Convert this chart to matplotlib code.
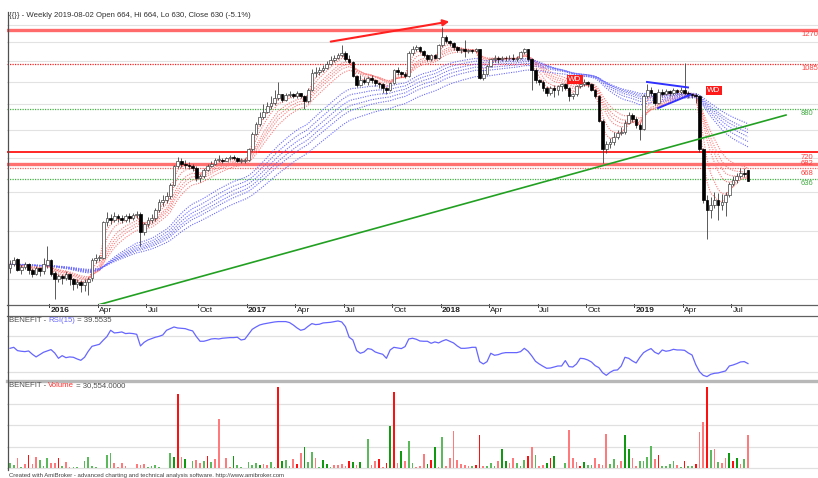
import numpy as np
import pandas as pd
import matplotlib
matplotlib.use('Agg')
import matplotlib.pyplot as plt
from matplotlib.lines import Line2D
from matplotlib.ticker import NullLocator

# ---------------- data (weekly bars from 2015-10-16) ----------------
start_date = '2015-10-16'
closes = [428,436,416,422,428,416,410,420,414,428,
          436,410,399,406,402,410,399,391,395,388,
          395,399,436,441,441,520,530,525,535,530,
          525,535,530,537,540,497,515,525,530,550,
          571,577,587,619,677,690,683,680,677,670,
          639,645,664,677,683,696,696,693,700,703,
          700,693,693,696,730,784,822,850,870,891,
          904,925,943,916,938,943,934,947,934,912,
          961,1041,1046,1056,1066,1087,1103,1118,1129,1140,
          1108,1097,1026,984,1007,998,1017,1007,993,988,
          970,961,993,1056,1046,1036,1026,1140,1161,1172,
          1150,1129,1108,1129,1118,1183,1229,1206,1194,1172,
          1156,1161,1150,1156,1150,1161,1017,1036,1077,1108,
          1118,1108,1118,1113,1118,1108,1118,1145,1161,1108,
          1056,1007,998,970,947,970,961,979,988,970,
          934,943,979,988,998,988,961,934,834,730,
          748,755,773,788,792,826,858,842,818,803,
          934,961,947,904,952,943,956,947,961,952,
          961,947,943,940,934,730,577,550,563,577,
          563,571,590,621,634,645,654,651,630]
opens = [420,428,438,416,422,428,416,410,420,414,
         426,436,412,399,406,402,410,399,391,395,
         388,395,402,436,441,441,520,530,525,535,
         530,525,535,530,537,540,497,515,525,530,
         550,571,577,587,619,677,690,683,680,677,
         670,639,645,664,677,683,696,696,693,700,
         703,700,693,693,696,730,784,822,850,870,
         891,904,925,943,916,938,943,934,947,934,
         912,961,1041,1046,1056,1066,1087,1103,1118,1129,
         1140,1108,1097,1026,984,1007,998,1017,1007,993,
         988,970,961,993,1056,1046,1036,1026,1140,1161,
         1172,1150,1129,1108,1129,1118,1183,1229,1206,1194,
         1172,1156,1161,1150,1156,1150,1161,1017,1036,1077,
         1108,1118,1108,1118,1113,1118,1108,1118,1145,1161,
         1108,1056,1007,998,970,947,970,961,979,988,
         970,934,943,979,988,998,988,961,934,834,
         730,748,755,773,788,792,826,858,842,818,
         803,934,961,947,904,952,943,956,947,961,
         952,961,947,943,940,934,730,577,550,563,
         577,563,571,590,621,634,645,654,664]
highs = [436,442,440,428,432,430,420,424,422,440,
         466,438,414,410,410,414,412,402,400,398,
         400,404,440,448,446,524,545,540,545,540,
         538,540,542,542,548,545,520,532,540,556,
         580,590,598,625,680,705,700,694,688,682,
         676,652,668,682,690,700,712,702,706,710,
         710,704,700,702,735,790,830,870,900,910,
         935,960,1000,945,948,958,950,955,950,940,
         970,1060,1070,1070,1078,1100,1125,1130,1140,1185,
         1150,1130,1100,1030,1030,1020,1025,1030,1012,1000,
         995,975,1000,1062,1070,1052,1045,1150,1180,1185,
         1180,1160,1135,1135,1135,1190,1290,1240,1215,1200,
         1180,1170,1215,1162,1165,1170,1165,1060,1082,1115,
         1130,1125,1128,1125,1130,1135,1128,1152,1170,1165,
         1115,1065,1012,1005,980,978,985,985,995,995,
         975,950,985,1000,1010,1002,995,968,940,840,
         760,770,790,800,810,835,870,865,850,825,
         945,990,975,950,965,965,968,960,972,968,
         975,1090,955,950,948,940,735,590,585,600,
         595,592,600,628,645,655,668,670,664]
lows = [412,424,414,410,418,410,404,408,406,410,
        420,406,365,394,390,398,388,380,384,376,
        378,372,396,430,434,438,512,516,522,520,
        518,520,522,526,530,466,490,508,518,524,
        545,560,570,580,615,668,672,670,665,660,
        630,626,640,660,672,680,688,686,690,694,
        694,688,684,686,690,726,780,815,842,865,
        880,895,916,908,912,930,928,926,926,882,
        905,955,1020,1030,1046,1060,1080,1095,1108,1120,
        1100,1085,1020,975,980,990,985,992,978,970,
        947,945,955,988,1030,1020,1015,1020,1130,1150,
        1140,1120,1098,1100,1110,1112,1175,1195,1180,1160,
        1145,1140,1120,1142,1140,1145,1010,1005,1030,1070,
        1095,1090,1098,1100,1105,1098,1100,1110,1135,1100,
        961,995,985,955,935,940,930,940,958,960,
        912,920,935,970,980,975,955,925,828,686,
        716,735,745,765,780,785,820,830,805,762,
        798,925,935,895,900,935,938,935,940,942,
        945,940,925,928,905,720,570,482,530,555,
        525,550,535,585,615,625,640,642,630]
volume_k = [5.2,3.1,9.3,0.9,4.0,12.0,4.0,10.2,7.7,2.2,
            9.9,4.6,4.6,9.3,2.5,6.2,0.9,1.5,0.9,0.6,
            7.1,10.2,2.2,1.5,0.3,0.3,12.4,13.9,5.3,1.5,
            4.6,2.2,0.3,0.3,4.0,3.1,4.0,0.9,2.5,3.4,
            1.5,0.3,0.3,13.9,10.2,69.0,10.2,8.3,0.3,7.1,
            7.7,5.3,7.1,11.4,6.2,8.3,45.4,0.6,9.3,1.5,
            11.4,3.1,0.9,0.3,6.2,3.1,5.3,3.1,3.7,3.1,
            5.6,0.9,75.1,7.1,7.7,2.2,8.3,3.7,13.9,19.5,
            6.2,15.4,9.3,1.5,7.7,4.0,1.5,3.1,3.1,3.7,
            2.2,7.1,6.2,3.1,6.2,0.6,26.9,3.1,7.1,8.3,
            1.5,4.6,39.2,70.5,5.3,15.7,7.1,25.3,5.3,1.5,
            2.2,13.3,3.7,7.7,19.5,0.9,28.7,2.5,9.3,34.9,
            7.7,3.7,3.1,2.5,2.5,3.1,30.9,2.5,2.2,5.3,
            2.2,7.1,17.6,7.1,5.3,9.3,5.3,2.2,7.7,11.4,
            19.5,12.4,2.2,3.1,4.6,9.9,11.4,0.3,0.3,5.3,
            35.5,9.3,6.2,2.5,6.2,3.1,3.1,9.3,4.0,3.4,
            32.1,4.0,8.3,3.1,7.1,30.9,17.6,9.9,2.5,6.8,
            6.8,10.2,20.7,8.3,12.4,2.2,2.2,4.0,6.8,3.1,
            1.5,7.1,2.5,2.2,3.7,33.7,42.6,75.1,17.0,17.6,
            5.9,5.3,9.9,13.9,7.1,9.9,3.7,8.3,30.554]
volume_color = list("ggrgrRrrgg" "grrRgrrggg" "ggggggggrr" "rrrrrrrggg"
                    "ggggGRrGgg" "rrgRgrrrrr" "GggggggGrr" "ggRGggrRrG"
                    "ggrgGGgrrr" "rRGrGrgrrR" "rRGRrGrggr" "rrGRGrgrrr"
                    "rrrrgRRrgg" "grGGrrgggR" "rgrrGRGggg" "rrrRGggrrr"
                    "rggrrGGrrg" "gggrRggggr" "gRggRrrRgr" "grrGRGrgr")
rsi = [56.2,57.3,53.7,53.0,52.6,53.3,49.7,46.8,49.3,51.9,
       53.3,54.8,51.1,45.3,48.2,46.0,46.8,46.4,44.6,43.1,
       46.4,53.0,58.4,59.5,60.6,65.0,69.0,75.9,73.0,73.4,
       74.1,72.3,72.7,72.3,71.5,58.8,62.8,65.3,66.8,68.3,
       69.3,70.8,75.9,77.7,79.5,78.4,78.1,77.7,76.3,75.2,
       69.0,63.9,63.9,65.0,66.4,66.8,66.4,67.2,67.5,67.9,
       67.9,68.3,65.3,66.1,71.5,77.0,79.5,81.7,82.8,83.6,
       84.3,85.0,85.4,85.4,85.4,84.3,81.7,78.5,75.9,77.0,
       80.3,83.2,82.1,82.5,83.9,84.3,84.6,85.4,86.1,85.0,
       79.9,68.3,65.3,53.7,50.8,52.2,55.9,55.1,52.2,50.8,
       49.7,45.3,54.4,57.3,56.6,55.9,58.1,66.4,67.2,66.1,
       64.2,63.9,63.9,61.7,63.2,62.1,64.2,65.7,63.9,62.1,
       58.8,56.2,56.2,56.6,57.3,57.3,41.7,39.1,41.7,50.8,
       48.6,49.3,50.8,51.5,51.5,51.5,51.5,52.6,56.2,53.0,
       47.9,42.0,39.1,36.6,34.4,34.7,35.8,36.9,36.9,42.8,
       36.2,35.8,39.1,45.3,44.9,43.5,41.3,37.3,35.1,29.6,
       26.7,30.0,32.2,32.6,36.9,46.4,45.3,42.4,40.2,46.4,
       51.5,54.0,55.9,51.9,50.0,54.4,53.0,53.7,55.1,54.4,
       54.4,54.0,51.1,48.9,38.4,30.7,26.7,25.3,27.8,28.9,
       29.3,30.4,31.5,36.9,38.0,39.5,41.3,41.7,39.55]
short_periods = [3, 5, 8, 10, 12, 15]
long_periods = [30, 35, 40, 45, 50, 60]
levels = [1270, 1085, 880, 720, 682, 668, 636]
level_labels = ['1270', '1085', '880', '720', '682', '668', '636']
tick_months = ['2016-01', '2016-04', '2016-07', '2016-10', '2017-01', '2017-04',
               '2017-07', '2017-10', '2018-01', '2018-04', '2018-07', '2018-10',
               '2019-01', '2019-04', '2019-07']
tick_labels = ['2016', 'Apr', 'Jul', 'Oct', '2017', 'Apr', 'Jul', 'Oct',
               '2018', 'Apr', 'Jul', 'Oct', '2019', 'Apr', 'Jul']

# ---------------- figure ----------------
W, H = 818, 478
plt.rcParams['font.family'] = ['Liberation Sans', 'DejaVu Sans']
fig = plt.figure(figsize=(W / 100, H / 100), dpi=100)
fig.patch.set_facecolor('white')


def px_axes(x0, y0, x1, y1):
    a = fig.add_axes([x0 / W, 1 - y1 / H, (x1 - x0) / W, (y1 - y0) / H])
    a.set_facecolor('none')
    for s in a.spines.values():
        s.set_visible(False)
    a.xaxis.set_major_locator(NullLocator())
    a.xaxis.set_minor_locator(NullLocator())
    a.yaxis.set_major_locator(NullLocator())
    a.yaxis.set_minor_locator(NullLocator())
    return a


def xi(px):
    return (px - 10) / 3.727


XL = (xi(7), xi(818))
n = len(closes)
idx = np.arange(n)
o = np.array(opens, float); c = np.array(closes, float)
hi = np.array(highs, float); lo = np.array(lows, float)

# ---------------- main price panel ----------------
ax = px_axes(7, 12, 818, 304)
ax.set_yscale('log')
ax.yaxis.set_major_locator(NullLocator())
ax.yaxis.set_minor_locator(NullLocator())
ax.set_ylim(356, 1381)
ax.set_xlim(*XL)
for g in [400, 500, 600, 700, 800, 900, 1000, 1100, 1200, 1300]:
    ax.axhline(g, color='#e2e2e2', lw=0.8, zorder=0)

level_styles = {
    1270: dict(color='#ff6a6a', lw=2.4, ls='-'),
    1085: dict(color='#ff2020', lw=0.9, ls=(0, (1, 1))),
    880: dict(color='#44b044', lw=0.9, ls=(0, (1, 1))),
    720: dict(color='#ff0000', lw=1.2, ls='-'),
    682: dict(color='#ff7070', lw=2.4, ls='-'),
    668: dict(color='#ff6060', lw=0.9, ls=(0, (1, 1))),
    636: dict(color='#44b044', lw=0.9, ls=(0, (1, 1))),
}
label_colors = {1270: '#ff4040', 1085: '#ff4040', 880: '#44aa44', 720: '#ff4040',
                682: '#ff4040', 668: '#ff4040', 636: '#44aa44'}
label_pos = {1270: (0.994, 'top'), 1085: (0.994, 'top'), 880: (0.994, 'top'),
             720: (0.994, 'top'), 682: (1.0, 'center'), 668: (0.992, 'top'),
             636: (0.994, 'top')}
for lv, lab in zip(levels, level_labels):
    ax.axhline(lv, zorder=1, **level_styles[lv])
    f, va = label_pos[lv]
    ax.text(xi(801), lv * f, lab, color=label_colors[lv], fontsize=5.5,
            va=va, ha='left', zorder=6)

cs = pd.Series(c)
for p in short_periods:
    ax.plot(idx, cs.ewm(span=p, adjust=False).mean(), color='#ff7a7a',
            lw=0.8, ls=(0, (1, 1.2)), zorder=2)
for p in long_periods:
    ax.plot(idx, cs.ewm(span=p, adjust=False).mean(), color='#6a6aff',
            lw=0.8, ls=(0, (1, 1.2)), zorder=2)

ax.vlines(idx, lo, hi, color='#404040', lw=0.6, zorder=3)
up = c >= o
body_lo = np.minimum(o, c); body_h = np.maximum(np.abs(c - o), body_lo * 0.004)
ax.bar(idx[up], body_h[up], bottom=body_lo[up], width=0.72, color='white',
       edgecolor='#404040', lw=0.5, zorder=4)
ax.bar(idx[~up], body_h[~up], bottom=body_lo[~up], width=0.72, color='black',
       edgecolor='black', lw=0.5, zorder=4)

# annotations
ax.annotate('', xy=(xi(452), 1324), xytext=(xi(328), 1201),
            arrowprops=dict(arrowstyle='-|>', color='#ff2020', lw=1.5,
                            mutation_scale=9), zorder=7)
ax.plot([xi(97), xi(786)], [354, 856], color='#22a022', lw=1.2, zorder=5)
ax.plot([xi(647), xi(688)], [998, 973], color='#3030ff', lw=1.4, zorder=5)
ax.plot([xi(658), xi(690)], [884, 940], color='#3030ff', lw=1.4, zorder=5)
for xp, pr in [(575, 1009), (714, 959)]:
    ax.text(xi(xp), pr, 'WD', color='white', fontsize=5.8, ha='center', va='center',
            zorder=8, bbox=dict(boxstyle='square,pad=0.15', fc='#ff1a1a', ec='none'))

# ---------------- date strip ----------------
axd = px_axes(7, 304, 818, 316)
axd.set_xlim(*XL); axd.set_ylim(0, 12)
bar_dates = pd.date_range(start_date, periods=n, freq='7D')
for m, lab in zip(tick_months, tick_labels):
    i = int(np.searchsorted(bar_dates, pd.Timestamp(m + '-01')))
    axd.plot([i - 0.45, i - 0.45], [12, 9], color='#404040', lw=0.7)
    axd.text(i - 0.1, 5.5, lab, fontsize=6, ha='left', va='center',
             fontweight='bold' if lab.isdigit() else 'normal', color='#202020')

# ---------------- RSI panel ----------------
axr = px_axes(7, 316, 818, 380)
axr.set_xlim(*XL); axr.set_ylim(21.6, 91.5)
for g in [30, 70]:
    axr.axhline(g, color='#e0e0e0', lw=0.9, zorder=0)
axr.plot(idx, rsi, color='#6666ff', lw=0.9, zorder=2)

# ---------------- Volume panel ----------------
axv = px_axes(7, 381, 818, 470)
axv.set_xlim(*XL); axv.set_ylim(-1574, 80840)
for g in [0, 20000, 40000, 60000]:
    axv.axhline(g, color='#e0e0e0', lw=0.9, zorder=0)
cmap = {'r': '#ff7a7a', 'R': '#ff1010', 'g': '#5cba5c', 'G': '#119911'}
axv.bar(idx, np.array(volume_k) * 1000, width=0.46,
        color=[cmap[k] for k in volume_color], zorder=2)

# ---------------- frame lines ----------------
def hline(y, col, lw, x0=7, x1=818):
    fig.add_artist(Line2D([x0 / W, x1 / W], [1 - y / H, 1 - y / H], color=col, lw=lw))

hline(304.5, '#606060', 0.9)
hline(315.5, '#606060', 0.9)
hline(380.5, '#b8b8b8', 2.4)
fig.add_artist(Line2D([7.5 / W, 7.5 / W], [1 - 12 / H, 1 - 470 / H], color='#505050', lw=0.9))

# ---------------- texts ----------------
renderer = fig.canvas.get_renderer()


def multi_text(x, y, parts, size):
    for s, col in parts:
        t = fig.text(x / W, 1 - y / H, s, color=col, fontsize=size, va='center', ha='left')
        x += t.get_window_extent(renderer).width


multi_text(9, 15.5, [('{{}} - Weekly 2019-08-02 Open 664, Hi 664, Lo 630, Close 630 (-5.1%)', '#303030')], 5.6)
multi_text(9, 320.5, [('BENEFIT - ', '#505050'), ('RSI(15)', '#6666ff'), (' = 39.5535', '#505050')], 5.6)
multi_text(9, 385.5, [('BENEFIT - ', '#505050'), ('Volume', '#ff3030'), (' = 30,554.0000', '#505050')], 5.6)
fig.text(9 / W, 1 - 476 / H,
         'Created with AmiBroker - advanced charting and technical analysis software. http://www.amibroker.com',
         fontsize=4.3, color='#404040', va='center', ha='left')

fig.savefig('out.png', dpi=100, facecolor='white')
